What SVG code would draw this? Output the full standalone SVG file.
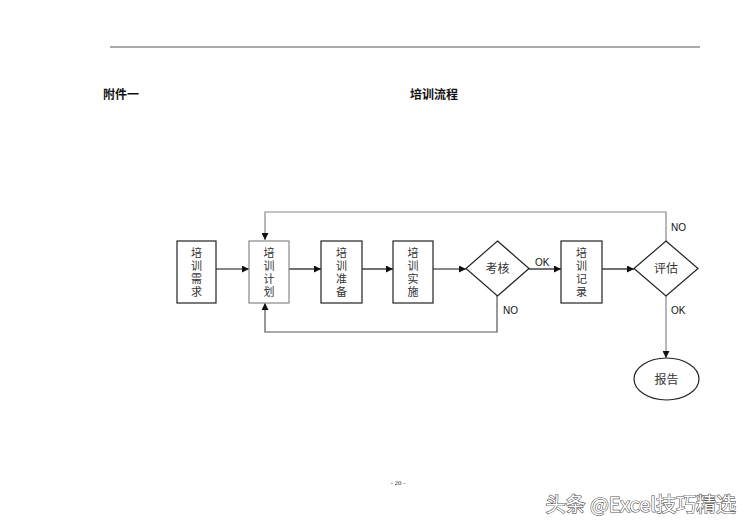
<svg xmlns="http://www.w3.org/2000/svg" width="750" height="530" viewBox="0 0 750 530">
<style>
.cjk{font-family:"Noto Sans CJK SC","Noto Sans CJK JP",sans-serif;}
.lbl{font-family:"Liberation Sans",Arial,sans-serif;font-size:10px;fill:#111;}
.box{fill:#fff;stroke:#222;stroke-width:1.2;}
.box2{fill:#fff;stroke:#888;stroke-width:1.2;}
.vt{font-size:11px;fill:#333;text-anchor:middle;}
.ln{stroke:#111;stroke-width:1.2;fill:none;}
.lg{stroke:#888;stroke-width:1.2;fill:none;}
.lm{stroke:#555;stroke-width:1.2;fill:none;}
</style>
<defs>
<marker id="ah" viewBox="0 0 10 10" refX="10" refY="5" markerWidth="7" markerHeight="7" orient="auto" markerUnits="userSpaceOnUse">
<path d="M0,0 L10,5 L0,10 z" fill="#111"/>
</marker>
</defs>
<rect width="750" height="530" fill="#fff"/>
<line x1="110" y1="47" x2="700" y2="47" stroke="#555" stroke-width="1"/>
<text x="103" y="99" class="cjk" font-size="12" font-weight="bold" fill="#111">附件一</text>
<text x="410" y="99" class="cjk" font-size="12" font-weight="bold" fill="#111">培训流程</text>

<g id="connectors">
<line class="ln" x1="216" y1="269" x2="249" y2="269" marker-end="url(#ah)"/>
<line class="ln" x1="289" y1="269" x2="321" y2="269" marker-end="url(#ah)"/>
<line class="ln" x1="362" y1="269" x2="393" y2="269" marker-end="url(#ah)"/>
<line class="ln" x1="433" y1="269" x2="466" y2="269" marker-end="url(#ah)"/>
<line class="ln" x1="529" y1="269" x2="561" y2="269" marker-end="url(#ah)"/>
<line class="ln" x1="602" y1="269" x2="634" y2="269" marker-end="url(#ah)"/>
<polyline class="lg" points="666,241 666,212 265,212 265,240" marker-end="url(#ah)"/>
<polyline class="lm" points="497,296 497,332 265,332 265,303" marker-end="url(#ah)"/>
<line class="lg" x1="666" y1="296" x2="666" y2="358" marker-end="url(#ah)"/>
<text class="lbl" x="535" y="266">OK</text>
<text class="lbl" x="503" y="314">NO</text>
<text class="lbl" x="671" y="231">NO</text>
<text class="lbl" x="671" y="314">OK</text>
</g>

<g id="n1">
<rect class="box" x="177" y="241" width="39" height="62"/>
<text class="cjk vt"><tspan x="196.5" y="257">培</tspan><tspan x="196.5" y="270">训</tspan><tspan x="196.5" y="283">需</tspan><tspan x="196.5" y="296">求</tspan></text>
</g>
<g id="n2">
<rect class="box2" x="249" y="241" width="40" height="62"/>
<text class="cjk vt"><tspan x="269" y="257">培</tspan><tspan x="269" y="270">训</tspan><tspan x="269" y="283">计</tspan><tspan x="269" y="296">划</tspan></text>
</g>
<g id="n3">
<rect class="box" x="321" y="241" width="41" height="62"/>
<text class="cjk vt"><tspan x="341.5" y="257">培</tspan><tspan x="341.5" y="270">训</tspan><tspan x="341.5" y="283">准</tspan><tspan x="341.5" y="296">备</tspan></text>
</g>
<g id="n4">
<rect class="box" x="393" y="241" width="40" height="62"/>
<text class="cjk vt"><tspan x="413" y="257">培</tspan><tspan x="413" y="270">训</tspan><tspan x="413" y="283">实</tspan><tspan x="413" y="296">施</tspan></text>
</g>
<g id="n5">
<polygon class="box" points="497.5,241 529,268.5 497.5,296 466,268.5"/>
<text class="cjk" x="497.5" y="273" font-size="12" fill="#333" text-anchor="middle">考核</text>
</g>
<g id="n6">
<rect class="box" x="561" y="241" width="41" height="62"/>
<text class="cjk vt"><tspan x="581.5" y="257">培</tspan><tspan x="581.5" y="270">训</tspan><tspan x="581.5" y="283">记</tspan><tspan x="581.5" y="296">录</tspan></text>
</g>
<g id="n7">
<polygon class="box" points="666,241 698,268.5 666,296 634,268.5"/>
<text class="cjk" x="666" y="273" font-size="12" fill="#333" text-anchor="middle">评估</text>
</g>
<g id="n8">
<ellipse class="box" cx="666.5" cy="379" rx="32.5" ry="21"/>
<text class="cjk" x="666.5" y="383.5" font-size="12" fill="#333" text-anchor="middle">报告</text>
</g>

<text x="398" y="485" font-family="Liberation Serif,serif" font-size="7" fill="#333" text-anchor="middle">- 20 -</text>
<text x="736" y="512" class="cjk" font-size="20" fill="#fff" stroke="#555" stroke-width="1.2" paint-order="stroke" text-anchor="end">头条 @Excel技巧精选</text>
</svg>
